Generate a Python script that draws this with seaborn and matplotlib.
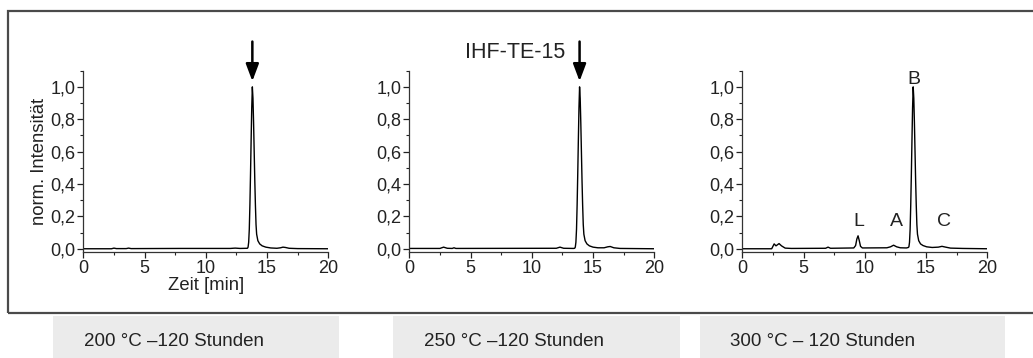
import matplotlib
matplotlib.use("Agg")
import matplotlib.pyplot as plt
from matplotlib.patches import Rectangle
from matplotlib.ticker import MultipleLocator, FuncFormatter
import pandas as pd
import seaborn as sns

# Chromatogram traces (retention time in min, normalised intensity)
time_200 = [0.0, 2.3, 2.5, 2.7, 3.5, 3.7, 3.9, 8.0, 12.0, 12.4, 12.8, 13.40, 13.45,
            13.50, 13.55, 13.60, 13.65, 13.70, 13.75, 13.80, 13.85, 13.90, 13.95,
            14.00, 14.05, 14.10, 14.15, 14.25, 14.40, 14.60, 14.90, 15.30, 15.80,
            16.10, 16.30, 16.50, 16.80, 17.50, 20.0]
int_200 = [0.0, 0.0, 0.004, 0.001, 0.001, 0.004, 0.001, 0.002, 0.002, 0.004, 0.002,
           0.003, 0.01, 0.04, 0.12, 0.27, 0.46, 0.67, 0.87, 1.0, 0.93, 0.78, 0.60,
           0.42, 0.27, 0.15, 0.09, 0.05, 0.03, 0.018, 0.010, 0.005, 0.003, 0.006,
           0.010, 0.008, 0.003, 0.001, 0.0]

time_250 = [0.0, 2.5, 2.8, 3.1, 3.5, 3.65, 3.8, 12.0, 12.3, 12.6, 13.4, 13.50, 13.55,
            13.60, 13.65, 13.70, 13.75, 13.80, 13.85, 13.90, 13.95, 14.00, 14.05,
            14.10, 14.15, 14.20, 14.25, 14.35, 14.50, 14.70, 15.00, 15.40, 15.90,
            16.20, 16.40, 16.70, 17.20, 20.0]
int_250 = [0.002, 0.002, 0.010, 0.003, 0.002, 0.006, 0.002, 0.003, 0.010, 0.003,
           0.002, 0.003, 0.01, 0.04, 0.12, 0.27, 0.46, 0.67, 0.87, 1.0, 0.93, 0.78,
           0.60, 0.42, 0.27, 0.15, 0.09, 0.05, 0.03, 0.018, 0.010, 0.006, 0.006,
           0.012, 0.014, 0.006, 0.002, 0.0]

time_300 = [0.0, 2.4, 2.6, 2.75, 3.0, 3.2, 3.5, 4.0, 6.8, 7.0, 7.2, 9.1, 9.25, 9.35,
            9.45, 9.55, 9.65, 9.8, 11.8, 12.1, 12.35, 12.6, 12.9, 13.4, 13.55, 13.60,
            13.65, 13.70, 13.75, 13.80, 13.85, 13.90, 13.95, 14.00, 14.05, 14.10,
            14.15, 14.20, 14.25, 14.30, 14.40, 14.55, 14.75, 15.05, 15.5, 16.0,
            16.3, 16.6, 17.0, 18.0, 20.0]
int_300 = [0.0, 0.0, 0.03, 0.018, 0.032, 0.018, 0.004, 0.002, 0.003, 0.01, 0.003,
           0.005, 0.02, 0.06, 0.08, 0.05, 0.015, 0.005, 0.006, 0.012, 0.022, 0.012,
           0.006, 0.005, 0.008, 0.012, 0.04, 0.12, 0.27, 0.46, 0.67, 0.87, 1.0,
           0.93, 0.78, 0.60, 0.42, 0.27, 0.15, 0.09, 0.05, 0.03, 0.02, 0.012, 0.008,
           0.01, 0.015, 0.01, 0.004, 0.002, 0.0]

conditions = ["200 °C –120 Stunden", "250 °C –120 Stunden", "300 °C – 120 Stunden"]

# Main product peak marked with an arrow in the first two runs
arrow_times = [13.8, 13.9]
compound_name = "IHF-TE-15"

# Peak labels in the 300 °C run
peak_labels = ["L", "A", "B", "C"]
peak_label_times = [9.55, 12.55, 13.97, 16.5]
peak_label_heights = [0.166, 0.166, 1.047, 0.166]

sns.set_theme(style="ticks")
plt.rcParams["font.family"] = ["Liberation Sans", "DejaVu Sans"]

W, H = 1033, 358
fig = plt.figure(figsize=(W / 100, H / 100), dpi=100)

# Outer frame around the three chromatograms and the condition labels below
fig.add_artist(Rectangle((8 / W, (H - 312.5) / H), 1.2, (312.5 - 10.5) / H,
                         transform=fig.transFigure, fill=False,
                         edgecolor="#4a4a4a", lw=1.6))
box_spans = [(53, 339), (393, 680), (700, 1005)]
text_left = [84, 424, 730]
for (x0, x1), tx, label in zip(box_spans, text_left, conditions):
    fig.add_artist(Rectangle((x0 / W, 0), (x1 - x0) / W, (H - 316) / H,
                             transform=fig.transFigure, facecolor="#ebebeb",
                             edgecolor="none"))
    fig.text(tx / W, (H - 342) / H, label, ha="left", va="center",
             fontsize=13.5, color="#222222")

traces = [(time_200, int_200), (time_250, int_250), (time_300, int_300)]
lefts = [83.3, 409.3, 742.3]
ax_bottom = (H - 252) / H
ax_height = (252 - 70.7) / H
ax_width = 245 / W

comma = FuncFormatter(lambda v, p: f"{v:.1f}".replace(".", ","))

axes = []
for left, (t, y) in zip(lefts, traces):
    ax = fig.add_axes([left / W, ax_bottom, ax_width, ax_height])
    df = pd.DataFrame({"t": t, "y": y})
    sns.lineplot(data=df, x="t", y="y", ax=ax, color="black", lw=1.0,
                 sort=False, estimator=None)
    ax.set_xlim(0, 20)
    ax.set_ylim(-0.02, 1.1)
    ax.xaxis.set_major_locator(MultipleLocator(5))
    ax.xaxis.set_minor_locator(MultipleLocator(2.5))
    ax.yaxis.set_major_locator(MultipleLocator(0.2))
    ax.yaxis.set_minor_locator(MultipleLocator(0.1))
    ax.yaxis.set_major_formatter(comma)
    ax.tick_params(which="major", length=4, width=0.9, labelsize=13,
                   colors="#222222", pad=1.5)
    ax.tick_params(which="minor", length=2.5, width=0.8, colors="#222222")
    for s in ["top", "right"]:
        ax.spines[s].set_visible(False)
    for s in ["left", "bottom"]:
        ax.spines[s].set_color("#333333")
        ax.spines[s].set_linewidth(0.9)
    ax.set_xlabel("")
    ax.set_ylabel("")
    axes.append(ax)

axes[0].set_ylabel("norm. Intensität", fontsize=13.3, color="#222222", labelpad=2)
axes[0].set_xlabel("Zeit [min]", fontsize=13.3, color="#222222", labelpad=0.5)

for ax, tx in zip(axes[:2], arrow_times):
    ax.annotate("", xy=(tx, 1.035), xytext=(tx, 1.28), annotation_clip=False,
                arrowprops=dict(arrowstyle="-|>,head_width=0.3,head_length=0.8",
                                color="black", lw=1.8, shrinkA=0, shrinkB=0,
                                mutation_scale=13))

axes[1].text(8.63, 1.214, compound_name, ha="center", va="center",
             fontsize=15.5, color="#222222", clip_on=False)

for lab, tx, ty in zip(peak_labels, peak_label_times, peak_label_heights):
    axes[2].text(tx, ty, lab, ha="center", va="center", fontsize=14,
                 color="#222222", clip_on=False)

fig.savefig("out.png", dpi=100)
